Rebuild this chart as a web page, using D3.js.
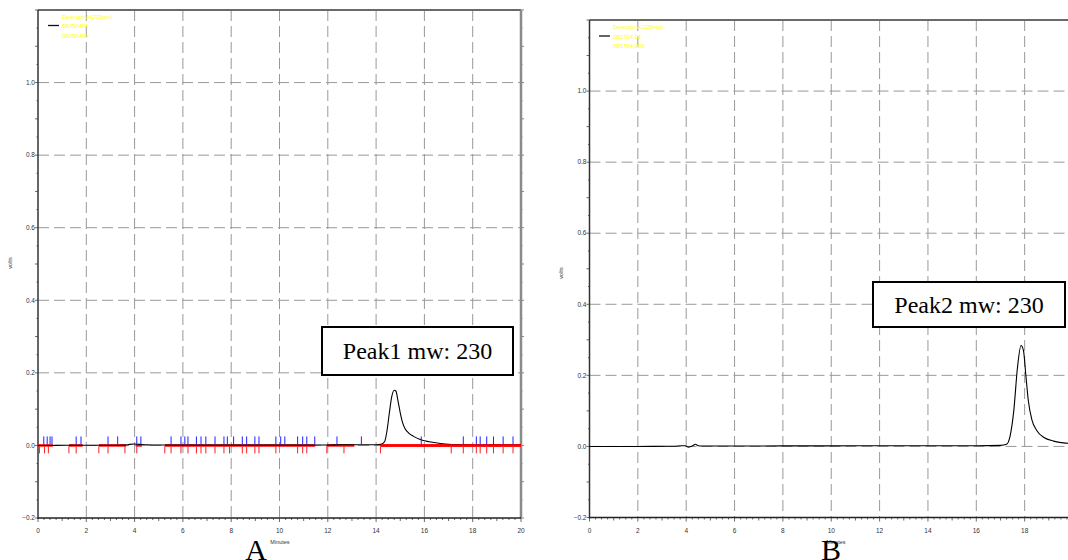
<!DOCTYPE html>
<html><head><meta charset="utf-8">
<script src="https://cdn.jsdelivr.net/npm/d3@7"></script>
<style>html,body{margin:0;padding:0;background:#fff;overflow:hidden}svg{display:block}</style>
</head><body>
<svg id="chart" width="1068" height="560"></svg>
<script>
// ---- data ----
const xTicksA = [0, 2, 4, 6, 8, 10, 12, 14, 16, 18, 20];
const xTicksB = [0, 2, 4, 6, 8, 10, 12, 14, 16, 18];
const yTicks = [-0.2, 0.0, 0.2, 0.4, 0.6, 0.8, 1.0];
const gridY = [0.0, 0.2, 0.4, 0.6, 0.8, 1.0];
const gridX = [2, 4, 6, 8, 10, 12, 14, 16, 18];

const timeA = [0, 0.5, 1, 2, 3, 3.6, 3.8, 4.0, 4.2, 4.5, 5, 6, 8, 10, 11.5, 12, 12.5, 13, 13.5, 14, 14.2, 14.35, 14.45, 14.55, 14.65, 14.75, 14.82, 14.9, 15.0, 15.1, 15.2, 15.35, 15.55, 15.8, 16.2, 16.6, 17, 17.5, 18, 19, 20];
const voltsA = [0, 0, 0.0005, 0.0005, 0.0005, 0.001, 0.003, 0.004, 0.003, 0.0015, 0.001, 0.001, 0.001, 0.001, 0.001, 0.001, 0.002, 0.002, 0.002, 0.002, 0.003, 0.01, 0.04, 0.09, 0.135, 0.152, 0.15, 0.125, 0.09, 0.062, 0.046, 0.034, 0.025, 0.017, 0.01, 0.006, 0.003, 0.002, 0.001, 0.001, 0.001];

const blueTicksA = [0.24, 0.38, 0.50, 0.58, 1.58, 1.78, 2.90, 3.30, 4.09, 4.26, 5.51, 5.92, 6.08, 6.21, 6.56, 6.75, 6.95, 7.33, 7.70, 7.84, 8.10, 8.46, 8.64, 8.98, 9.15, 9.85, 10.05, 10.22, 10.75, 10.96, 11.13, 11.46, 12.38, 13.39, 15.87, 17.61, 18.15, 18.31, 18.58, 18.86, 19.26, 19.67];
const redTicksA = [0.06, 0.27, 0.43, 1.28, 1.58, 2.52, 2.90, 3.60, 4.09, 5.25, 5.51, 5.92, 6.21, 6.56, 6.75, 6.95, 7.33, 7.70, 7.93, 8.46, 8.64, 8.98, 9.15, 9.85, 10.75, 10.96, 11.13, 11.96, 12.67, 14.18, 17.11, 17.61, 18.15, 18.31, 18.58, 18.86, 19.26, 19.67];
const baseStartA = [0, 1.28, 2.52, 4.05, 5.25, 11.96, 14.18];
const baseEndA   = [0.62, 1.85, 3.65, 4.30, 11.48, 13.1, 20];

const timeB = [0, 2, 3.5, 3.8, 3.95, 4.1, 4.25, 4.38, 4.5, 4.7, 6, 8, 10, 12, 14, 16, 17, 17.25, 17.4, 17.55, 17.7, 17.85, 17.95, 18.05, 18.15, 18.3, 18.5, 18.8, 19.2, 19.6, 20];
const voltsB = [0, 0, 0.0005, 0.002, 0.002, -0.002, 0.001, 0.006, 0.002, 0.001, 0.001, 0.0015, 0.0015, 0.002, 0.002, 0.002, 0.003, 0.006, 0.03, 0.1, 0.22, 0.284, 0.27, 0.2, 0.13, 0.075, 0.045, 0.025, 0.015, 0.01, 0.008];

const legendA = ["Detector A(220nm)", "08050401", "08050400"];
const legendB = ["Detector A(220nm)", "081704.01", "081704.003"];
const noteA = "Peak1 mw: 230";
const noteB = "Peak2 mw: 230";

// ---- drawing ----
const svg = d3.select("#chart");

function panel(cfg) {
  const x = d3.scaleLinear().domain([0, 20]).range([cfg.x0, cfg.x1]);
  const y = d3.scaleLinear().domain([-0.2, 1.2]).range([cfg.y0, cfg.y1]);
  const g = svg.append("g");

  // grid
  g.selectAll(".gx").data(gridX).join("line")
    .attr("x1", d => x(d)).attr("x2", d => x(d)).attr("y1", cfg.y1).attr("y2", cfg.y0)
    .attr("stroke", "#999").attr("stroke-width", 1).attr("stroke-dasharray", "11,5");
  g.selectAll(".gy").data(gridY).join("line")
    .attr("x1", cfg.x0).attr("x2", cfg.x1).attr("y1", d => y(d)).attr("y2", d => y(d))
    .attr("stroke", "#999").attr("stroke-width", 1).attr("stroke-dasharray", "11,5");

  // minor ticks
  const yMinor = d3.range(-0.2, 1.2001, 0.05);
  g.selectAll(".ym").data(yMinor).join("line")
    .attr("x1", cfg.x0).attr("x2", d => cfg.x0 - (Math.abs(Math.round(d * 20)) % 2 === 0 ? 3 : 1.5))
    .attr("y1", d => y(d)).attr("y2", d => y(d)).attr("stroke", "#444").attr("stroke-width", 0.8);
  g.selectAll(".yr").data(yMinor).join("line")
    .attr("x1", cfg.x1).attr("x2", d => cfg.x1 + (Math.abs(Math.round(d * 20)) % 2 === 0 ? 3 : 1.5))
    .attr("y1", d => y(d)).attr("y2", d => y(d)).attr("stroke", "#666").attr("stroke-width", 0.8);
  const xMinor = d3.range(0, 20.001, 0.25);
  g.selectAll(".xm").data(xMinor).join("line")
    .attr("x1", d => x(d)).attr("x2", d => x(d)).attr("y1", cfg.y0)
    .attr("y2", d => cfg.y0 + (Math.round(d * 4) % 8 === 0 ? 4 : (Math.round(d * 4) % 4 === 0 ? 3 : 2)))
    .attr("stroke", "#444").attr("stroke-width", 0.8);

  // frame
  g.append("line").attr("x1", cfg.x0).attr("x2", cfg.x1).attr("y1", cfg.y1).attr("y2", cfg.y1)
    .attr("stroke", "#6a6a6a").attr("stroke-width", 2);
  g.append("line").attr("x1", cfg.x1).attr("x2", cfg.x1).attr("y1", cfg.y1).attr("y2", cfg.y0)
    .attr("stroke", "#8a8a8a").attr("stroke-width", 2.5);
  g.append("line").attr("x1", cfg.x0).attr("x2", cfg.x0).attr("y1", cfg.y1).attr("y2", cfg.y0 + 1)
    .attr("stroke", "#333").attr("stroke-width", 1.5);
  g.append("line").attr("x1", cfg.x0).attr("x2", cfg.x1).attr("y1", cfg.y0).attr("y2", cfg.y0)
    .attr("stroke", "#222").attr("stroke-width", 1.5);

  // tick labels
  g.selectAll(".yl").data(yTicks).join("text")
    .attr("x", cfg.x0 - 3).attr("y", d => y(d)).attr("dy", "0.35em")
    .attr("text-anchor", "end").attr("font-family", "Liberation Sans, Arial, sans-serif")
    .attr("font-size", 6.5).attr("fill", "#333").text(d3.format(".1f"));
  g.selectAll(".xl").data(cfg.xTicks).join("text")
    .attr("x", d => x(d)).attr("y", cfg.y0 + 15)
    .attr("text-anchor", "middle").attr("font-family", "Liberation Sans, Arial, sans-serif")
    .attr("font-size", 6.5).attr("fill", "#333").text(d => d);

  // axis titles
  g.append("text").attr("transform", `translate(${cfg.voltsX},${cfg.voltsY}) rotate(-90)`)
    .attr("text-anchor", "middle").attr("font-family", "Liberation Sans, Arial, sans-serif")
    .attr("font-size", 5.5).attr("fill", "#333").text("volts");
  g.append("text").attr("x", cfg.minX).attr("y", 544)
    .attr("text-anchor", "middle").attr("font-family", "Liberation Sans, Arial, sans-serif")
    .attr("font-size", 5.5).attr("fill", "#333").text("Minutes");

  // legend
  g.append("line").attr("x1", cfg.legX).attr("x2", cfg.legX + 11)
    .attr("y1", cfg.legY + 9).attr("y2", cfg.legY + 9).attr("stroke", "#111").attr("stroke-width", 1.3);
  g.selectAll(".lg").data(cfg.legend).join("text")
    .attr("x", cfg.legX + 14).attr("y", (d, i) => cfg.legY + i * 9.5).attr("dy", "0.35em")
    .attr("font-family", "Liberation Sans, Arial, sans-serif").attr("font-size", 6)
    .attr("fill", "#ffff00").text(d => d);

  return { x, y, g };
}

// Panel A
const A = panel({ x0: 38, x1: 521, y0: 518, y1: 10, voltsX: 12, voltsY: 263, minX: 280, legX: 48, legY: 16.5, legend: legendA, xTicks: xTicksA });
A.g.selectAll(".bs").data(baseStartA).join("line")
  .attr("x1", d => A.x(d)).attr("x2", (d, i) => A.x(baseEndA[i]))
  .attr("y1", A.y(0)).attr("y2", A.y(0)).attr("stroke", "#f00").attr("stroke-width", 2.5);
A.g.append("path").datum(timeA.map((t, i) => [t, voltsA[i]]))
  .attr("d", d3.line().x(d => A.x(d[0])).y(d => A.y(d[1])).curve(d3.curveMonotoneX))
  .attr("fill", "none").attr("stroke", "#000").attr("stroke-width", 1.1);
A.g.append("line").attr("x1", A.x(baseStartA[baseStartA.length - 1])).attr("x2", A.x(20))
  .attr("y1", A.y(0)).attr("y2", A.y(0)).attr("stroke", "#f00").attr("stroke-width", 2.5);
A.g.selectAll(".bt").data(blueTicksA).join("line")
  .attr("x1", d => A.x(d)).attr("x2", d => A.x(d)).attr("y1", A.y(0) - 1).attr("y2", A.y(0) - 9)
  .attr("stroke", "#2020ff").attr("stroke-width", 1);
A.g.selectAll(".rt").data(redTicksA).join("line")
  .attr("x1", d => A.x(d)).attr("x2", d => A.x(d)).attr("y1", A.y(0) + 1).attr("y2", A.y(0) + 8)
  .attr("stroke", "#ff2020").attr("stroke-width", 1);

// Panel B
const B = panel({ x0: 589.5, x1: 1073, y0: 517.5, y1: 20, voltsX: 563, voltsY: 273, minX: 836, legX: 599, legY: 27, legend: legendB, xTicks: xTicksB });
B.g.append("path").datum(timeB.map((t, i) => [t, voltsB[i]]))
  .attr("d", d3.line().x(d => B.x(d[0])).y(d => B.y(d[1])).curve(d3.curveMonotoneX))
  .attr("fill", "none").attr("stroke", "#000").attr("stroke-width", 1.1);

// annotation boxes
function note(text, bx, by, bw, bh) {
  svg.append("rect").attr("x", bx).attr("y", by).attr("width", bw).attr("height", bh)
    .attr("fill", "#fff").attr("stroke", "#000").attr("stroke-width", 2);
  svg.append("text").attr("x", bx + bw / 2).attr("y", by + bh / 2).attr("dy", "0.35em")
    .attr("text-anchor", "middle").attr("font-family", "Liberation Serif, Times New Roman, serif")
    .attr("font-size", 24).attr("fill", "#000").text(text);
}
note(noteA, 322, 327, 191, 48);
note(noteB, 873, 282, 192, 45);

// panel letters
svg.append("text").attr("x", 256).attr("y", 560).attr("text-anchor", "middle")
  .attr("font-family", "Liberation Serif, Times New Roman, serif").attr("font-size", 30).text("A");
svg.append("text").attr("x", 831).attr("y", 560).attr("text-anchor", "middle")
  .attr("font-family", "Liberation Serif, Times New Roman, serif").attr("font-size", 30).text("B");
</script>
</body></html>
